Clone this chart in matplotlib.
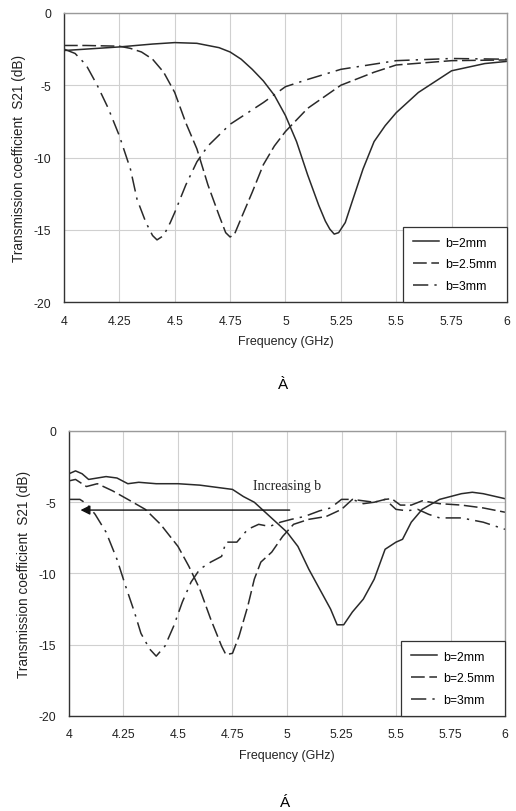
import matplotlib
matplotlib.use("Agg")
import matplotlib.pyplot as plt

plt.rcParams["font.family"] = ["Liberation Sans", "DejaVu Sans"]
plt.rcParams["axes.unicode_minus"] = False

# ---- (a) simulated ----
f_a_b2 = [4.0, 4.1, 4.25, 4.4, 4.5, 4.6, 4.7, 4.75, 4.8, 4.85, 4.9, 4.95, 5.0, 5.05, 5.1, 5.15,
          5.18, 5.2, 5.22, 5.24, 5.27, 5.3, 5.35, 5.4, 5.45, 5.5, 5.6, 5.75, 5.9, 6.0]
s_a_b2 = [-2.6, -2.5, -2.35, -2.15, -2.05, -2.1, -2.4, -2.7, -3.2, -3.9, -4.7, -5.7, -7.1, -8.9, -11.2, -13.3,
          -14.4, -14.95, -15.3, -15.2, -14.5, -13.1, -10.8, -8.9, -7.8, -6.9, -5.5, -4.0, -3.5, -3.35]

f_a_b25 = [4.0, 4.1, 4.25, 4.3, 4.35, 4.4, 4.45, 4.5, 4.55, 4.6, 4.65, 4.7, 4.73, 4.75, 4.77, 4.8,
           4.85, 4.9, 4.95, 5.0, 5.1, 5.25, 5.4, 5.5, 5.75, 6.0]
s_a_b25 = [-2.25, -2.25, -2.3, -2.45, -2.7, -3.2, -4.1, -5.5, -7.6, -9.4, -11.9, -14.0, -15.2, -15.5, -15.3, -14.2,
           -12.4, -10.5, -9.2, -8.2, -6.6, -5.0, -4.1, -3.6, -3.3, -3.25]

f_a_b3 = [4.0, 4.05, 4.1, 4.15, 4.2, 4.25, 4.3, 4.33, 4.37, 4.4, 4.42, 4.45, 4.48, 4.5, 4.55, 4.6,
          4.65, 4.75, 4.9, 5.0, 5.1, 5.25, 5.5, 5.75, 6.0]
s_a_b3 = [-2.5, -2.8, -3.6, -5.0, -6.6, -8.5, -10.8, -12.9, -14.5, -15.4, -15.7, -15.4, -14.5, -13.8, -11.9, -10.3,
          -9.2, -7.7, -6.2, -5.1, -4.6, -3.9, -3.3, -3.15, -3.2]

# ---- (b) measured ----
f_b_b2 = [4.0, 4.03, 4.06, 4.09, 4.13, 4.17, 4.22, 4.27, 4.32, 4.4, 4.5, 4.6, 4.7, 4.75, 4.8, 4.85,
          4.9, 4.95, 5.0, 5.05, 5.1, 5.15, 5.2, 5.23, 5.26, 5.3, 5.35, 5.4, 5.45, 5.5, 5.53, 5.57,
          5.62, 5.7, 5.8, 5.85, 5.9, 6.0]
s_b_b2 = [-3.0, -2.8, -3.0, -3.4, -3.3, -3.2, -3.3, -3.7, -3.6, -3.7, -3.7, -3.8, -4.0, -4.1, -4.6, -5.0,
          -5.7, -6.4, -7.1, -8.1, -9.7, -11.1, -12.5, -13.6, -13.6, -12.7, -11.8, -10.4, -8.3, -7.8, -7.6, -6.4,
          -5.5, -4.8, -4.4, -4.3, -4.4, -4.75]

f_b_b25 = [4.0, 4.03, 4.08, 4.13, 4.2, 4.27, 4.35, 4.42, 4.5, 4.55, 4.6, 4.65, 4.7, 4.72, 4.75, 4.78,
           4.82, 4.85, 4.88, 4.93, 4.98, 5.03, 5.1, 5.18, 5.25, 5.3, 5.35, 5.4, 5.45, 5.48, 5.52, 5.57,
           5.62, 5.7, 5.8, 5.9, 6.0]
s_b_b25 = [-3.5, -3.4, -3.9, -3.7, -4.2, -4.8, -5.5, -6.55, -8.1, -9.5, -11.1, -13.2, -15.1, -15.7, -15.6, -14.4,
           -12.3, -10.4, -9.2, -8.5, -7.4, -6.55, -6.2, -6.0, -5.5, -4.8, -4.9, -5.0, -4.8, -4.75, -5.2, -5.2,
           -4.9, -5.1, -5.2, -5.4, -5.7]

f_b_b3 = [4.0, 4.05, 4.08, 4.12, 4.17, 4.22, 4.26, 4.3, 4.33, 4.37, 4.4, 4.44, 4.48, 4.52, 4.56, 4.6,
          4.65, 4.7, 4.72, 4.77, 4.82, 4.87, 4.92, 4.97, 5.02, 5.08, 5.15, 5.2, 5.25, 5.3, 5.35, 5.4,
          5.45, 5.5, 5.55, 5.6, 5.65, 5.7, 5.8, 5.9, 6.0]
s_b_b3 = [-4.8, -4.8, -5.1, -5.85, -7.1, -9.0, -10.9, -12.7, -14.2, -15.3, -15.8, -15.1, -13.7, -12.0, -10.6, -9.7,
          -9.2, -8.8, -7.8, -7.8, -6.9, -6.55, -6.7, -6.4, -6.2, -6.0, -5.6, -5.4, -4.8, -4.8, -5.1, -5.0,
          -4.8, -5.5, -5.6, -5.5, -5.85, -6.1, -6.1, -6.4, -6.9]

labels = ["b=2mm", "b=2.5mm", "b=3mm"]
xticks = [4, 4.25, 4.5, 4.75, 5, 5.25, 5.5, 5.75, 6]
xtick_labels = ["4", "4.25", "4.5", "4.75", "5", "5.25", "5.5", "5.75", "6"]
yticks = [0, -5, -10, -15, -20]

line_col = "#2a2a2a"
styles = ["-", (0, (9, 3)), (0, (10, 4, 1.5, 4))]

fig = plt.figure(figsize=(5.16, 8.12), dpi=100)
ax1 = fig.add_axes([0.124, 0.6268, 0.8585, 0.356])
ax2 = fig.add_axes([0.1337, 0.117, 0.845, 0.351])


def style_axes(ax, series):
    for (f, s), lab, ls in zip(series, labels, styles):
        ax.plot(f, s, color=line_col, lw=1.1, linestyle=ls, label=lab)
    ax.set_xlim(4, 6)
    ax.set_ylim(-20, 0)
    ax.set_xticks(xticks)
    ax.set_xticklabels(xtick_labels)
    ax.set_yticks(yticks)
    ax.grid(True, color="#d0d0d0", lw=0.8)
    ax.set_axisbelow(True)
    ax.tick_params(length=0, labelsize=8.8, colors="#222222", pad=9)
    for sp in ["top", "right"]:
        ax.spines[sp].set_color("#9a9a9a")
    for sp in ["left", "bottom"]:
        ax.spines[sp].set_color("#333333")
    for sp in ax.spines.values():
        sp.set_linewidth(1.0)
    ax.set_xlabel("Frequency (GHz)", fontsize=9, color="#222222", labelpad=6)
    ax.set_ylabel("Transmission coefficient  S21 (dB)", fontsize=9.8, color="#222222", labelpad=6)
    leg = ax.legend(loc="lower right", bbox_to_anchor=(1, 0), borderaxespad=0, fancybox=False,
                    edgecolor="#333333", framealpha=1, fontsize=8.8, handlelength=2.2,
                    labelspacing=0.8, borderpad=0.8, handletextpad=0.5)
    leg.get_frame().set_linewidth(0.9)


style_axes(ax1, [(f_a_b2, s_a_b2), (f_a_b25, s_a_b25), (f_a_b3, s_a_b3)])
style_axes(ax2, [(f_b_b2, s_b_b2), (f_b_b25, s_b_b25), (f_b_b3, s_b_b3)])

ax2.annotate("", xy=(4.04, -5.55), xytext=(5.025, -5.55),
             arrowprops=dict(arrowstyle="-|>", color="#111111", lw=1.0, mutation_scale=14))
ax2.text(5.0, -3.8, "Increasing b", fontsize=10, family=["Liberation Serif"], color="#222222",
         ha="center", va="center")

fig.text(283 / 516, 1 - 385 / 812, "À", fontsize=11, ha="center", va="center")
fig.text(285 / 516, 1 - 803 / 812, "Á", fontsize=11, ha="center", va="center")

fig.savefig("out.png", dpi=100)
